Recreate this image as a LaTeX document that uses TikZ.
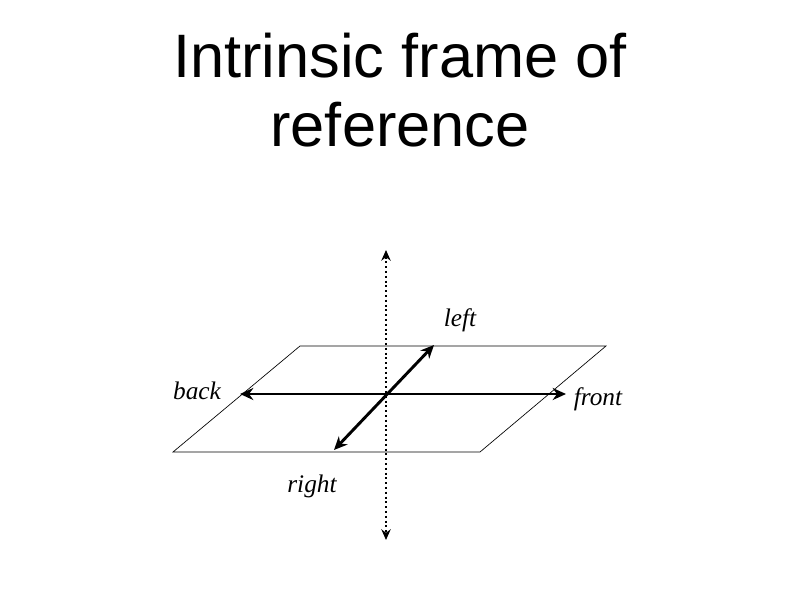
\documentclass[tikz,border=0pt]{standalone}
\usepackage{fontspec}
\setmainfont{Liberation Serif}
\newfontfamily\titlefont{Liberation Sans}
\usetikzlibrary{arrows.meta}
\begin{document}
\begin{tikzpicture}[x=0.75pt,y=-0.75pt,
  lbl/.style={font=\fontsize{19}{22}\selectfont\itshape},
  axis/.style={line width=2.2pt,{Stealth[length=10pt,width=9pt]}-{Stealth[length=10pt,width=9pt]}}]
\useasboundingbox (0,0) rectangle (800,600);
\node[font=\titlefont\fontsize{46}{52}\selectfont,align=center] (title) at (400,90) {Intrinsic frame of\\reference};
\draw[line width=0.5pt] (300,346) -- (606,346) -- (480,452) -- (173,452) -- cycle;
\coordinate (vt) at (386,250); \coordinate (vb) at (386,540);
\draw[line width=1.6pt,dotted,{Stealth[length=8pt,width=7pt]}-{Stealth[length=8pt,width=7pt]}] (vt) -- (vb);
\coordinate (hb) at (240,394); \coordinate (hf) at (566,394);
\draw[axis] (hb) -- (hf);
\coordinate (dr) at (334,450); \coordinate (dl) at (434,345);
\draw[axis] (dr) -- (dl);
\node[lbl] (left) at (460,320) {left};
\node[lbl] (back) at (197,391) {back};
\node[lbl] (front) at (598,399) {front};
\node[lbl] (right) at (312,486) {right};
\end{tikzpicture}
\end{document}
